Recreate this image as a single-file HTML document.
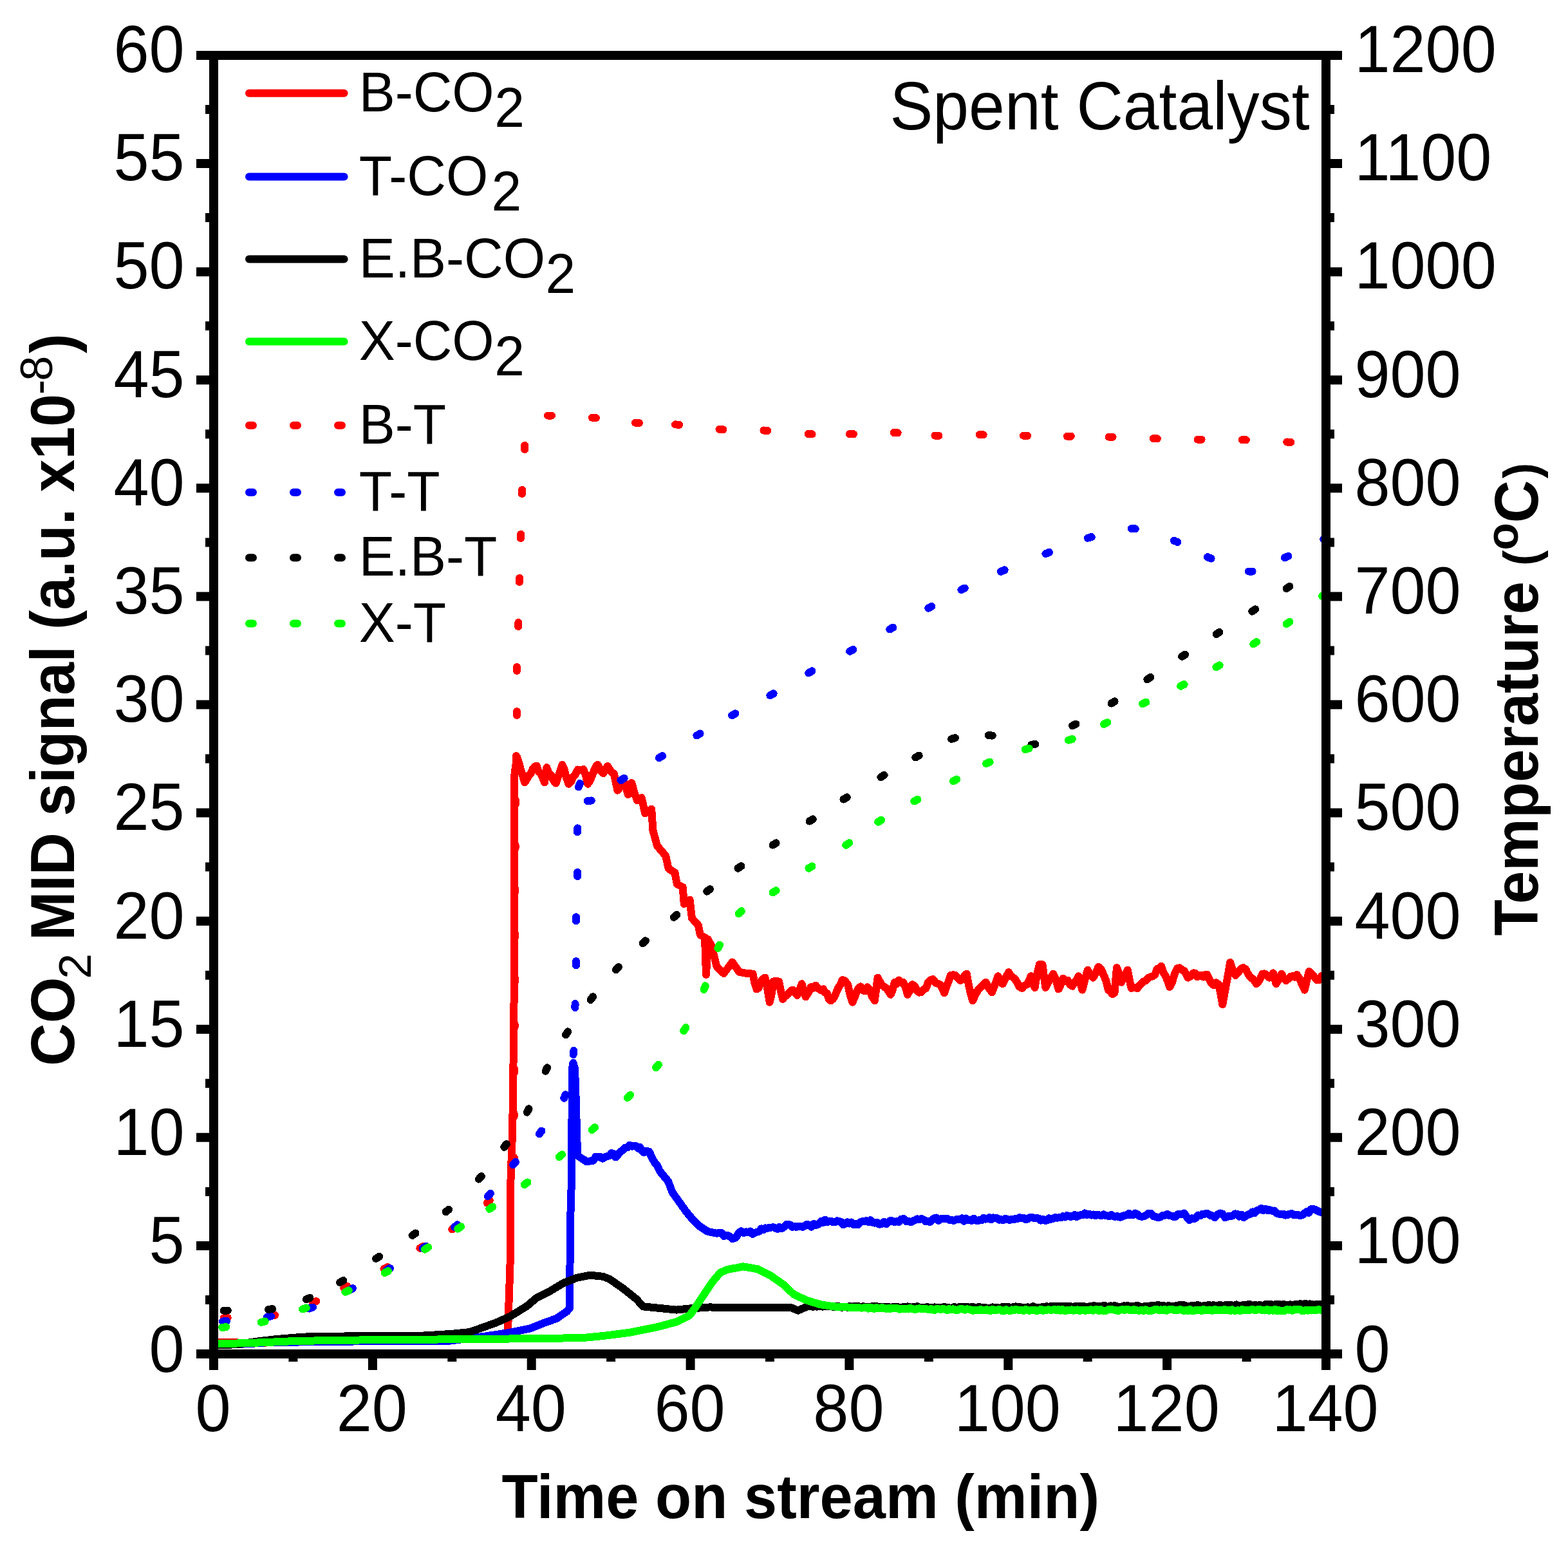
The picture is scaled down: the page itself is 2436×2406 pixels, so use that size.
<!DOCTYPE html>
<html><head><meta charset="utf-8"><style>html,body{margin:0;padding:0;background:#fff;overflow:hidden}svg{display:block}</style></head><body>
<svg width="2436" height="2406" viewBox="0 0 2436 2406">
<rect width="100%" height="100%" fill="#fff"/>
<defs><clipPath id="pc"><rect x="339" y="93" width="1714" height="2003"/></clipPath></defs>
<g clip-path="url(#pc)" fill="none" stroke-width="12" stroke-linejoin="round" stroke-linecap="round" shape-rendering="crispEdges">
<path d="M339.0 2085.5 365.0 2085.3 380.0 2086.0 407.0 2085.8 459.0 2083.5 535.0 2081.5 730.0 2079.5 786.0 2079.0 789.0 2068.0 793.0 1950.0 793.0 1847.0 796.0 1760.0 797.0 1700.0 798.6 1550.0 799.0 1206.0 803.0 1175.7 806.0 1184.1 809.0 1195.9 812.1 1204.8 815.1 1215.5 818.4 1210.3 821.7 1203.8 824.7 1201.1 827.8 1194.3 830.8 1190.5 833.8 1190.0 836.8 1198.4 839.9 1201.3 843.0 1207.5 846.0 1215.5 849.3 1192.2 852.9 1201.3 856.5 1204.2 860.0 1212.5 863.6 1216.6 866.9 1206.9 870.2 1198.2 873.5 1187.8 876.8 1195.7 880.1 1208.5 883.4 1217.7 887.0 1214.4 890.5 1206.7 894.1 1202.5 897.7 1195.5 902.1 1196.3 906.5 1195.0 909.8 1203.7 913.1 1217.7 916.2 1213.3 919.3 1206.3 922.3 1198.6 925.4 1191.0 928.5 1187.8 932.9 1196.7 937.3 1201.2 940.6 1195.4 943.9 1190.0 947.2 1195.2 950.5 1200.0 953.8 1201.6 959.3 1227.6 962.6 1223.9 965.9 1220.1 969.2 1212.6 972.5 1222.8 975.8 1234.2 981.3 1216.0 985.7 1231.6 990.1 1243.5 993.4 1241.0 996.7 1239.1 1002.2 1263.3 1012.2 1256.7 1014.4 1289.7 1021.0 1313.9 1034.2 1329.3 1038.6 1349.1 1048.5 1355.7 1051.8 1373.4 1060.6 1377.8 1062.8 1404.2 1071.6 1397.6 1074.9 1426.2 1084.8 1437.2 1088.1 1452.6 1095.0 1456.0 1097.0 1514.0 1100.0 1459.0 1105.7 1470.2 1113.4 1501.0 1124.4 1512.0 1137.6 1494.4 1148.6 1509.8 1159.7 1512.0 1169.5 1512.6 1172.5 1527.5 1175.5 1536.4 1178.8 1534.6 1182.0 1524.7 1185.3 1520.5 1188.6 1518.6 1192.2 1535.7 1195.7 1556.7 1198.7 1543.9 1201.7 1524.5 1205.8 1524.1 1210.0 1524.5 1213.0 1539.1 1216.0 1551.9 1219.1 1547.6 1222.2 1546.2 1225.2 1542.5 1228.3 1539.4 1231.4 1537.6 1235.0 1542.4 1238.6 1546.0 1242.2 1537.6 1245.7 1528.1 1248.7 1541.0 1251.7 1548.3 1255.8 1541.9 1260.0 1532.9 1263.5 1534.7 1267.1 1530.5 1271.1 1535.0 1275.0 1537.9 1279.0 1536.4 1282.0 1542.1 1285.0 1543.0 1288.0 1552.3 1291.0 1554.3 1294.6 1551.1 1298.1 1544.3 1301.7 1535.5 1305.2 1530.0 1308.8 1522.1 1312.9 1523.7 1317.1 1529.3 1320.7 1545.3 1324.3 1556.7 1327.5 1550.0 1330.6 1540.9 1333.8 1535.2 1337.1 1532.4 1340.5 1538.2 1343.8 1539.3 1347.2 1533.3 1350.5 1536.4 1354.7 1547.5 1358.8 1554.3 1363.6 1518.6 1369.5 1529.3 1373.1 1532.5 1376.7 1534.6 1380.2 1539.5 1383.8 1544.8 1386.8 1537.1 1389.8 1525.7 1393.1 1528.3 1396.3 1522.5 1399.6 1526.5 1402.9 1525.7 1406.5 1532.1 1410.0 1544.8 1413.5 1538.6 1417.1 1529.3 1420.7 1531.1 1424.2 1537.9 1427.8 1541.6 1431.4 1541.2 1435.0 1536.5 1438.6 1535.1 1442.1 1525.5 1445.7 1522.1 1449.7 1521.1 1453.6 1526.8 1457.6 1528.1 1460.8 1529.6 1463.9 1535.5 1467.1 1542.4 1470.3 1532.6 1473.5 1524.9 1476.7 1515.0 1480.7 1514.2 1484.6 1515.0 1488.6 1519.8 1492.2 1523.0 1495.7 1521.0 1498.7 1515.5 1501.7 1512.6 1504.9 1529.7 1508.0 1543.2 1511.2 1554.3 1515.3 1545.1 1519.5 1537.6 1523.5 1533.4 1527.4 1529.8 1531.4 1525.7 1534.6 1531.9 1537.8 1536.7 1541.0 1541.2 1544.2 1533.3 1547.3 1525.4 1550.5 1516.2 1554.0 1525.2 1557.6 1528.1 1560.8 1522.2 1563.9 1515.7 1567.1 1510.2 1570.7 1515.9 1574.3 1518.6 1577.5 1521.5 1580.6 1526.7 1583.8 1532.9 1587.8 1535.0 1591.7 1530.6 1595.7 1529.3 1598.7 1523.1 1601.7 1516.2 1607.6 1534.0 1611.2 1512.7 1614.8 1498.3 1619.5 1498.3 1624.3 1534.0 1628.3 1526.3 1632.2 1520.3 1636.2 1512.6 1640.3 1521.1 1644.5 1536.4 1648.1 1528.9 1651.7 1519.8 1655.3 1523.7 1658.8 1522.7 1662.4 1529.6 1666.0 1531.7 1669.2 1526.3 1672.3 1522.6 1675.5 1516.2 1681.4 1537.6 1685.6 1521.1 1689.8 1506.7 1693.9 1514.1 1698.1 1518.6 1702.2 1511.9 1706.4 1501.9 1710.6 1505.1 1714.8 1515.0 1718.3 1523.2 1721.9 1537.6 1725.1 1540.4 1728.2 1544.0 1731.4 1542.4 1735.0 1503.1 1738.5 1512.7 1742.1 1525.7 1745.3 1519.1 1748.5 1513.7 1751.7 1506.7 1757.6 1535.2 1760.8 1533.9 1763.9 1534.2 1767.1 1535.2 1770.3 1530.3 1773.5 1527.2 1776.7 1524.5 1780.3 1523.1 1783.8 1519.0 1787.4 1517.4 1791.0 1516.2 1794.2 1514.2 1797.5 1505.1 1800.8 1505.1 1804.0 1500.7 1807.3 1510.4 1810.5 1515.5 1813.8 1522.9 1817.1 1532.9 1821.1 1525.5 1825.0 1512.0 1829.0 1504.3 1832.6 1503.3 1836.2 1506.2 1839.8 1507.9 1845.7 1518.6 1849.8 1516.4 1854.0 1511.4 1857.0 1511.6 1860.0 1517.4 1863.1 1515.4 1866.2 1514.8 1869.3 1517.6 1872.4 1514.1 1875.5 1513.8 1881.4 1526.9 1885.4 1530.2 1889.3 1526.2 1893.3 1529.3 1896.3 1543.6 1899.3 1560.2 1905.2 1528.1 1908.2 1512.5 1911.2 1494.8 1915.3 1507.6 1919.5 1515.0 1923.5 1510.7 1927.4 1505.1 1931.4 1503.1 1935.4 1505.6 1939.3 1513.6 1943.3 1518.6 1947.5 1521.2 1951.7 1528.1 1954.9 1525.1 1958.0 1520.1 1961.2 1512.6 1964.8 1512.4 1968.3 1515.1 1971.9 1518.6 1974.9 1517.2 1977.9 1511.4 1982.6 1528.1 1986.8 1521.3 1991.0 1512.6 1994.5 1520.1 1998.1 1523.3 2001.4 1520.3 2004.8 1516.9 2008.1 1516.1 2011.5 1517.8 2014.8 1513.8 2018.8 1520.1 2022.7 1528.6 2026.7 1537.6 2030.2 1522.7 2033.8 1509.0 2037.8 1512.8 2041.7 1517.1 2045.7 1522.1 2049.3 1522.1 2053.0 1516.2" stroke="#ff0000"/>
<path d="M339.0 2089.0 384.0 2087.3 415.0 2085.2 500.0 2084.0 600.0 2083.0 700.0 2082.5 750.7 2076.0 792.0 2069.8 823.2 2063.6 843.9 2055.3 864.6 2048.0 881.1 2036.6 885.0 2032.0 886.0 1900.0 887.9 1835.0 888.5 1740.0 889.0 1660.0 890.5 1651.0 893.0 1660.0 894.8 1710.0 896.3 1770.0 897.7 1795.3 901.1 1797.6 904.4 1799.9 907.8 1801.8 911.1 1804.2 914.5 1803.7 918.2 1803.3 921.9 1802.7 925.5 1796.6 929.2 1797.4 932.7 1797.2 936.1 1799.6 939.6 1797.4 943.1 1796.0 946.6 1795.2 950.1 1791.1 953.2 1792.3 956.4 1797.4 960.1 1793.6 963.8 1788.8 967.4 1786.6 971.1 1782.7 974.6 1782.4 978.1 1778.9 981.6 1780.6 984.8 1779.5 987.9 1780.0 991.1 1783.5 994.2 1781.7 997.3 1787.2 1000.4 1790.0 1004.6 1787.8 1008.8 1789.0 1013.0 1798.9 1017.2 1805.8 1020.7 1809.6 1024.2 1817.5 1027.7 1822.5 1038.2 1835.1 1044.5 1851.9 1055.0 1866.6 1065.4 1881.2 1075.9 1893.8 1086.4 1904.3 1099.0 1912.7 1113.6 1915.8 1117.3 1914.7 1120.9 1914.9 1124.6 1920.1 1128.3 1919.0 1131.4 1919.2 1134.4 1920.9 1137.5 1924.0 1141.1 1923.5 1144.7 1920.0 1148.2 1914.2 1151.8 1912.3 1155.2 1915.0 1158.7 1913.4 1162.2 1914.5 1165.6 1912.6 1169.0 1916.7 1172.5 1914.9 1175.9 1913.7 1179.4 1912.9 1182.8 1908.4 1185.9 1910.4 1189.0 1907.4 1192.1 1907.7 1195.2 1906.7 1198.3 1906.6 1201.5 1906.2 1204.6 1907.4 1207.7 1908.9 1210.8 1905.9 1213.9 1908.4 1217.8 1906.1 1221.6 1902.0 1224.7 1902.0 1227.8 1902.6 1231.0 1905.9 1234.1 1905.0 1237.2 1905.9 1240.4 1904.6 1243.6 1905.1 1246.8 1905.8 1250.0 1904.4 1253.6 1901.7 1257.2 1903.5 1260.8 1905.7 1264.4 1900.8 1268.0 1903.0 1271.7 1901.3 1275.4 1897.2 1278.6 1898.8 1281.7 1894.6 1284.8 1898.3 1288.0 1896.8 1291.0 1896.7 1294.1 1898.3 1297.1 1898.4 1300.4 1896.3 1303.6 1896.9 1306.9 1898.0 1310.1 1902.3 1313.4 1900.4 1316.4 1898.3 1319.5 1900.5 1322.5 1898.6 1326.1 1902.0 1329.7 1901.2 1333.0 1902.4 1336.2 1898.4 1339.5 1897.4 1342.7 1897.2 1346.0 1896.1 1349.3 1898.0 1352.5 1895.1 1355.8 1898.8 1359.0 1899.6 1362.3 1898.6 1365.9 1901.7 1369.6 1901.2 1373.2 1897.8 1376.8 1901.4 1380.4 1898.1 1383.6 1895.8 1386.8 1896.9 1389.9 1898.0 1393.1 1897.2 1396.7 1898.0 1400.4 1893.7 1404.0 1893.2 1407.6 1897.1 1411.3 1896.9 1414.9 1898.4 1418.3 1896.3 1421.7 1895.2 1425.0 1893.4 1428.4 1893.9 1431.7 1893.0 1435.1 1894.5 1438.4 1897.5 1441.7 1897.4 1445.1 1897.9 1448.4 1894.3 1451.6 1892.4 1454.7 1891.5 1457.9 1896.0 1461.1 1893.5 1464.2 1892.6 1467.4 1892.8 1471.0 1892.5 1474.6 1894.8 1478.2 1895.1 1481.9 1896.1 1485.5 1894.3 1488.5 1894.2 1491.5 1894.1 1494.5 1892.3 1497.6 1896.7 1500.6 1892.4 1503.6 1894.8 1506.6 1894.6 1509.6 1896.2 1512.7 1892.6 1515.7 1895.4 1518.7 1896.4 1521.7 1894.7 1524.8 1895.3 1527.8 1891.8 1530.8 1893.6 1533.8 1893.0 1536.8 1891.3 1539.8 1894.5 1542.9 1891.4 1545.9 1891.9 1548.9 1891.9 1552.1 1894.7 1555.2 1894.3 1558.4 1895.3 1561.6 1893.0 1564.8 1893.5 1568.0 1895.0 1571.1 1894.1 1574.3 1894.5 1577.5 1893.0 1580.7 1893.0 1583.8 1891.2 1587.0 1892.5 1590.0 1891.5 1593.1 1894.1 1596.1 1893.6 1599.2 1891.5 1602.2 1890.5 1605.8 1891.8 1609.5 1892.2 1613.2 1892.3 1616.8 1895.6 1620.0 1893.8 1623.2 1895.7 1626.4 1895.5 1629.6 1892.3 1632.8 1893.7 1636.0 1893.0 1639.2 1891.0 1642.2 1891.7 1645.3 1891.2 1648.3 1891.4 1651.4 1889.1 1654.4 1890.5 1657.5 1888.1 1660.5 1888.8 1663.6 1889.9 1666.6 1889.3 1669.7 1887.0 1672.7 1889.9 1675.8 1888.1 1678.8 1887.1 1682.1 1887.4 1685.4 1884.5 1688.7 1887.1 1692.0 1885.6 1695.3 1887.6 1698.6 1886.5 1701.9 1888.2 1705.2 1886.6 1708.2 1887.5 1711.3 1888.4 1714.3 1886.3 1717.4 1887.9 1720.4 1888.5 1723.5 1889.1 1726.5 1886.8 1729.6 1889.4 1732.6 1889.7 1735.7 1888.9 1738.7 1890.5 1741.8 1890.5 1744.8 1888.4 1747.9 1887.8 1751.0 1887.2 1754.0 1884.8 1757.1 1887.5 1760.2 1887.3 1763.3 1884.5 1766.8 1886.2 1770.3 1889.0 1773.8 1889.8 1777.3 1889.1 1780.9 1887.4 1784.4 1884.5 1788.0 1884.5 1791.7 1889.2 1795.3 1889.9 1798.9 1891.1 1802.5 1890.6 1806.2 1888.1 1809.8 1887.7 1813.4 1885.8 1816.7 1888.2 1820.0 1888.5 1823.3 1889.9 1826.6 1889.8 1829.9 1886.1 1833.2 1885.5 1836.5 1885.5 1839.8 1884.5 1843.8 1890.5 1847.7 1895.0 1851.1 1892.3 1854.5 1893.3 1857.9 1891.7 1861.3 1887.5 1864.7 1888.3 1868.1 1885.7 1871.5 1885.8 1874.7 1884.6 1877.9 1886.1 1881.0 1888.1 1884.2 1888.4 1887.4 1891.1 1891.3 1886.3 1895.3 1884.5 1899.2 1885.5 1903.2 1891.1 1906.3 1890.0 1909.4 1888.7 1912.5 1889.0 1915.5 1888.0 1918.6 1885.4 1921.7 1885.8 1925.2 1889.6 1928.7 1886.8 1932.2 1891.1 1935.6 1888.9 1939.0 1886.6 1942.4 1885.6 1945.8 1882.4 1949.2 1884.3 1952.6 1880.3 1956.0 1879.2 1959.4 1877.1 1962.8 1880.1 1966.2 1877.7 1969.5 1880.2 1972.9 1879.3 1976.3 1880.7 1979.7 1880.5 1983.2 1884.6 1986.8 1885.6 1990.3 1885.8 1993.6 1885.6 1996.9 1887.7 2000.2 1887.0 2003.5 1885.8 2006.8 1884.8 2010.1 1887.3 2013.4 1887.3 2016.7 1887.1 2020.0 1888.3 2023.3 1887.3 2026.6 1884.5 2029.9 1882.2 2033.2 1883.8 2036.5 1878.3 2039.8 1877.8 2043.1 1878.7 2046.4 1880.5 2049.7 1882.3 2053.0 1883.2" stroke="#0000ff"/>
<path d="M339.0 2089.5 370.0 2088.0 400.0 2083.5 430.0 2080.0 460.0 2077.5 490.0 2075.5 535.0 2075.5 650.0 2075.0 700.0 2072.0 730.0 2069.0 771.4 2054.2 792.1 2045.0 819.0 2028.4 833.5 2016.0 854.2 2005.6 874.9 1993.2 895.6 1984.9 916.3 1980.7 937.0 1982.8 947.4 1987.0 968.1 2001.4 988.8 2018.0 999.2 2029.4 1030.2 2032.5 1050.9 2034.6 1071.6 2032.5 1102.7 2030.4 1130.0 2031.5 1229.0 2031.0 1239.7 2035.6 1254.0 2029.4 1257.0 2029.0 1260.0 2028.6 1263.0 2029.8 1266.0 2028.4 1269.0 2029.6 1272.0 2029.2 1275.0 2028.5 1278.0 2029.6 1281.0 2028.4 1284.0 2029.4 1287.0 2028.6 1290.0 2028.6 1293.0 2029.4 1296.0 2030.4 1299.0 2028.8 1302.0 2029.0 1305.0 2030.0 1308.0 2030.8 1311.0 2029.9 1314.0 2029.5 1317.0 2030.9 1320.0 2028.7 1323.0 2030.7 1326.0 2029.3 1329.0 2029.0 1332.0 2028.9 1335.0 2029.4 1338.0 2030.6 1341.0 2029.1 1344.0 2030.1 1347.0 2030.3 1350.0 2029.7 1353.0 2030.1 1356.0 2028.9 1359.0 2029.0 1362.0 2029.3 1365.0 2030.5 1368.0 2029.9 1371.0 2029.6 1374.0 2030.3 1377.0 2030.0 1380.0 2029.6 1383.0 2030.9 1386.0 2030.6 1389.0 2029.6 1392.0 2030.4 1395.0 2030.3 1398.0 2031.1 1401.0 2030.8 1404.0 2029.8 1407.0 2031.4 1410.0 2029.4 1413.0 2030.1 1416.0 2031.0 1419.0 2029.5 1422.0 2030.3 1425.0 2029.3 1428.0 2030.8 1431.0 2031.1 1434.0 2030.6 1437.0 2031.4 1440.0 2030.0 1443.0 2031.0 1446.0 2030.7 1449.0 2030.7 1452.0 2030.4 1455.0 2031.4 1458.0 2031.6 1461.0 2030.5 1464.0 2031.0 1467.0 2029.6 1470.0 2031.1 1473.0 2031.0 1476.0 2031.9 1479.0 2031.5 1482.0 2030.2 1485.0 2030.5 1488.0 2031.2 1491.0 2029.6 1494.0 2030.7 1497.0 2030.0 1500.0 2029.9 1503.0 2029.8 1506.0 2031.5 1509.0 2030.0 1512.0 2030.3 1515.0 2030.7 1518.0 2031.8 1521.0 2029.9 1524.0 2030.8 1527.0 2031.1 1530.0 2031.0 1533.0 2031.9 1536.0 2031.7 1539.0 2031.8 1542.0 2030.4 1545.0 2030.7 1548.0 2030.5 1551.0 2031.7 1554.0 2031.9 1557.1 2029.9 1560.1 2029.9 1563.1 2030.0 1566.1 2030.0 1569.1 2030.6 1572.1 2030.8 1575.1 2030.0 1578.1 2029.4 1581.1 2030.3 1584.1 2030.2 1587.1 2030.6 1590.1 2031.5 1593.1 2030.9 1596.1 2030.4 1599.1 2030.6 1602.1 2030.7 1605.1 2029.2 1608.1 2031.2 1611.2 2030.9 1614.2 2031.1 1617.2 2030.9 1620.2 2029.9 1623.2 2029.9 1626.2 2029.1 1629.2 2030.4 1632.2 2029.0 1635.2 2029.0 1638.2 2029.3 1641.2 2029.1 1644.2 2029.5 1647.2 2028.8 1650.2 2028.7 1653.2 2029.0 1656.2 2028.8 1659.2 2029.4 1662.3 2028.6 1665.3 2030.6 1668.3 2030.0 1671.3 2028.8 1674.3 2029.0 1677.3 2029.2 1680.3 2029.2 1683.3 2028.6 1686.3 2030.3 1689.3 2030.7 1692.3 2029.4 1695.3 2029.4 1698.3 2028.4 1701.3 2028.4 1704.3 2029.0 1707.3 2028.7 1710.3 2030.1 1713.4 2028.4 1716.4 2028.1 1719.4 2030.3 1722.4 2029.2 1725.4 2028.3 1728.4 2029.2 1731.4 2027.9 1734.4 2029.1 1737.4 2030.2 1740.4 2029.9 1743.4 2029.4 1746.4 2028.4 1749.4 2028.6 1752.4 2028.1 1755.4 2029.5 1758.4 2028.9 1761.4 2029.5 1764.4 2028.3 1767.5 2028.1 1770.5 2029.4 1773.5 2029.8 1776.5 2029.5 1779.5 2029.3 1782.5 2029.4 1785.5 2029.1 1788.5 2027.9 1791.5 2028.5 1794.5 2028.1 1797.5 2027.3 1800.5 2027.3 1803.5 2027.9 1806.5 2027.8 1809.5 2028.8 1812.5 2029.4 1815.5 2028.1 1818.6 2029.3 1821.6 2029.4 1824.6 2029.3 1827.6 2027.8 1830.6 2027.5 1833.6 2027.4 1836.6 2027.3 1839.6 2027.3 1842.6 2028.3 1845.6 2028.9 1848.6 2028.8 1851.6 2027.9 1854.6 2028.3 1857.6 2028.6 1860.6 2026.8 1863.6 2028.2 1866.6 2028.8 1869.6 2028.4 1872.7 2028.3 1875.7 2027.6 1878.7 2026.9 1881.7 2028.3 1884.7 2027.2 1887.7 2028.3 1890.7 2028.7 1893.7 2027.3 1896.7 2027.3 1899.7 2028.5 1902.7 2028.0 1905.7 2026.6 1908.7 2026.5 1911.7 2026.5 1914.7 2028.3 1917.7 2028.0 1920.7 2026.4 1923.8 2028.0 1926.8 2028.4 1929.8 2027.6 1932.8 2026.8 1935.8 2027.2 1938.8 2026.2 1941.8 2025.9 1944.8 2028.2 1947.8 2027.4 1950.8 2027.0 1953.8 2028.0 1956.8 2026.8 1959.8 2027.8 1962.8 2027.6 1965.8 2026.1 1968.8 2026.2 1971.8 2026.3 1974.9 2026.1 1977.9 2026.9 1980.9 2026.1 1983.9 2026.5 1986.9 2025.7 1989.9 2027.6 1992.9 2026.2 1995.9 2026.4 1998.9 2026.7 2001.9 2027.5 2004.9 2026.3 2007.9 2027.4 2010.9 2026.4 2013.9 2026.4 2016.9 2026.4 2019.9 2025.2 2022.9 2026.1 2025.9 2025.5 2029.0 2025.0 2032.0 2026.9 2035.0 2025.4 2038.0 2026.1 2041.0 2026.7 2044.0 2026.2 2047.0 2025.6 2050.0 2026.1 2053.0 2026.0" stroke="#000000"/>
<path d="M339.0 2087.5 365.0 2086.6 407.0 2085.3 459.0 2083.0 535.0 2081.7 730.0 2080.1 843.9 2079.0 906.0 2078.0 937.0 2075.0 978.4 2069.8 1019.9 2061.5 1050.9 2053.2 1071.6 2042.9 1082.0 2028.4 1094.4 2009.7 1106.8 1991.1 1119.2 1976.6 1130.0 1972.0 1154.8 1967.3 1177.6 1971.4 1196.3 1980.7 1217.0 1995.2 1233.5 2010.8 1254.2 2020.1 1274.9 2026.3 1295.6 2029.4 1337.0 2031.5 1340.0 2031.5 1343.1 2031.3 1346.1 2030.8 1349.2 2032.6 1352.2 2030.6 1355.3 2031.9 1358.3 2032.9 1361.4 2031.0 1364.4 2032.2 1367.5 2032.4 1370.5 2031.0 1373.6 2031.9 1376.6 2032.8 1379.7 2032.2 1382.7 2032.9 1385.8 2031.6 1388.8 2031.9 1391.8 2031.6 1394.9 2032.6 1397.9 2033.7 1401.0 2033.0 1404.0 2033.5 1407.1 2032.6 1410.1 2033.5 1413.2 2032.0 1416.2 2032.5 1419.3 2033.5 1422.3 2033.7 1425.4 2033.0 1428.4 2032.3 1431.5 2032.8 1434.5 2032.7 1437.6 2032.9 1440.6 2033.5 1443.7 2034.3 1446.8 2032.9 1449.8 2034.6 1452.9 2034.6 1456.0 2032.7 1459.1 2033.5 1462.2 2033.8 1465.3 2032.8 1468.3 2033.8 1471.4 2035.0 1474.5 2033.1 1477.6 2034.4 1480.7 2033.3 1483.8 2034.4 1486.8 2035.2 1489.9 2033.6 1493.0 2033.2 1496.1 2033.4 1499.2 2034.6 1502.3 2033.4 1505.3 2033.6 1508.4 2034.6 1511.5 2035.7 1514.6 2034.5 1517.7 2034.5 1520.8 2035.2 1523.8 2033.9 1526.9 2035.1 1530.0 2035.0 1533.0 2034.2 1536.0 2035.3 1539.0 2036.1 1542.0 2033.9 1545.0 2035.1 1548.0 2035.3 1551.0 2034.2 1554.0 2034.4 1557.1 2036.2 1560.1 2036.2 1563.1 2034.1 1566.1 2035.5 1569.1 2036.1 1572.1 2034.4 1575.1 2035.3 1578.1 2033.9 1581.1 2034.7 1584.1 2035.4 1587.1 2035.2 1590.1 2035.7 1593.1 2034.0 1596.1 2034.6 1599.1 2035.9 1602.1 2035.2 1605.1 2034.9 1608.1 2034.8 1611.2 2036.2 1614.2 2035.2 1617.2 2033.8 1620.2 2035.7 1623.2 2034.6 1626.2 2034.8 1629.2 2034.3 1632.2 2034.9 1635.2 2034.6 1638.2 2034.0 1641.2 2035.3 1644.2 2034.0 1647.2 2035.7 1650.2 2033.9 1653.2 2035.7 1656.2 2035.7 1659.2 2035.0 1662.3 2035.5 1665.3 2034.4 1668.3 2035.6 1671.3 2034.8 1674.3 2034.4 1677.3 2036.1 1680.3 2034.8 1683.3 2034.7 1686.3 2035.9 1689.3 2034.7 1692.3 2035.4 1695.3 2034.2 1698.3 2035.8 1701.3 2034.4 1704.3 2033.9 1707.3 2036.1 1710.3 2034.2 1713.4 2036.1 1716.4 2036.2 1719.4 2035.3 1722.4 2033.8 1725.4 2033.9 1728.4 2034.3 1731.4 2034.7 1734.4 2035.3 1737.4 2036.1 1740.4 2034.7 1743.4 2034.1 1746.4 2035.1 1749.4 2034.1 1752.4 2034.0 1755.4 2035.1 1758.4 2035.5 1761.4 2034.0 1764.4 2034.9 1767.5 2035.5 1770.5 2035.6 1773.5 2034.7 1776.5 2035.9 1779.5 2034.2 1782.5 2035.5 1785.5 2035.7 1788.5 2035.9 1791.5 2035.0 1794.5 2034.0 1797.5 2033.9 1800.5 2035.1 1803.5 2034.2 1806.5 2035.3 1809.5 2034.0 1812.5 2035.7 1815.5 2034.3 1818.6 2033.8 1821.6 2034.2 1824.6 2034.9 1827.6 2035.1 1830.6 2034.7 1833.6 2034.2 1836.6 2035.0 1839.6 2036.1 1842.6 2035.1 1845.6 2036.1 1848.6 2033.9 1851.6 2036.2 1854.6 2035.9 1857.6 2035.1 1860.6 2035.1 1863.6 2035.1 1866.6 2036.0 1869.6 2034.0 1872.7 2035.3 1875.7 2035.1 1878.7 2034.5 1881.7 2035.5 1884.7 2035.5 1887.7 2034.0 1890.7 2035.5 1893.7 2034.9 1896.7 2035.0 1899.7 2035.3 1902.7 2033.9 1905.7 2035.2 1908.7 2034.7 1911.7 2035.9 1914.7 2034.4 1917.7 2035.8 1920.7 2035.6 1923.8 2035.3 1926.8 2035.9 1929.8 2033.9 1932.8 2035.2 1935.8 2035.3 1938.8 2035.4 1941.8 2034.8 1944.8 2034.0 1947.8 2034.3 1950.8 2035.3 1953.8 2034.2 1956.8 2034.0 1959.8 2034.7 1962.8 2034.9 1965.8 2035.1 1968.8 2033.9 1971.8 2035.7 1974.9 2034.6 1977.9 2035.7 1980.9 2033.8 1983.9 2036.1 1986.9 2035.2 1989.9 2036.1 1992.9 2036.2 1995.9 2035.8 1998.9 2034.1 2001.9 2034.6 2004.9 2034.4 2007.9 2035.7 2010.9 2034.3 2013.9 2034.3 2016.9 2034.1 2019.9 2034.1 2022.9 2036.1 2025.9 2036.1 2029.0 2034.7 2032.0 2035.6 2035.0 2034.9 2038.0 2035.1 2041.0 2034.7 2044.0 2035.3 2047.0 2034.4 2050.0 2034.4 2053.0 2035.0" stroke="#00ff00"/>
<path d="M347.7 2047.2L353.7 2046.8M421.2 2043.8L427.2 2042.8M485.6 2023.3L491.2 2021.1M534.3 2000.7L539.7 1998.1M596.5 1970.8L601.9 1968.0M652.4 1938.8L657.6 1935.8M702.3 1909.5L707.3 1906.1M756.8 1868.7L760.8 1864.1M797.2 1803.9L798.8 1798.1M798.5 1735.0L798.5 1729.0M799.0 1666.0L799.0 1660.0M799.5 1596.0L799.5 1590.0M800.0 1525.0L800.0 1519.0M800.0 1456.0L800.0 1450.0M800.0 1386.0L800.0 1380.0M800.5 1318.0L800.5 1312.0M801.0 1249.0L801.0 1243.0M802.0 1180.0L802.0 1174.0M803.0 1111.0L803.0 1105.0M803.0 1042.0L803.0 1036.0M805.2 973.0L805.4 967.0M806.9 904.0L807.1 898.0M808.9 836.0L809.1 830.0M810.9 767.0L811.1 761.0M815.2 692.0L815.2 698.0M851.0 645.5L857.0 645.5M919.8 648.7L925.8 649.1M986.9 656.6L992.9 657.0M1049.1 659.4L1055.1 659.8M1117.5 666.8L1123.5 667.2M1186.4 668.5L1192.4 668.9M1255.6 674.1L1261.6 674.3M1319.9 674.2L1325.9 674.2M1388.7 672.1L1394.7 672.3M1452.5 676.6L1458.5 676.8M1521.7 675.2L1527.7 675.2M1590.0 676.6L1596.0 676.8M1657.8 677.7L1663.8 677.7M1722.6 678.6L1728.6 678.8M1791.9 681.1L1797.9 681.3M1860.6 682.7L1866.6 682.7M1929.9 683.1L1935.9 683.3M1999.2 686.5L2005.2 686.9" stroke="#ff0000"/>
<path d="M346.0 2052.5L352.0 2051.9M415.0 2045.5L421.0 2044.5M480.4 2032.5L486.0 2030.5M542.6 2003.8L548.0 2001.2M600.7 1972.9L605.9 1969.9M656.7 1938.8L661.7 1935.6M706.2 1906.0L710.8 1902.2M757.9 1858.1L761.9 1853.7M797.1 1809.3L800.9 1804.7M837.8 1761.4L841.4 1756.6M876.3 1705.8L878.5 1700.2M890.7 1638.0L891.3 1632.0M893.4 1565.0L893.6 1559.0M895.0 1499.2L895.0 1493.2M895.0 1430.3L895.0 1424.3M897.2 1361.0L897.2 1355.0M897.1 1292.3L897.3 1286.3M898.8 1222.5L901.0 1216.9M912.7 1244.3L918.7 1243.5M964.4 1212.0L969.6 1208.8M1023.9 1177.2L1029.1 1174.2M1082.4 1142.5L1087.6 1139.5M1137.2 1111.2L1142.4 1108.4M1196.4 1080.3L1201.6 1077.3M1256.2 1045.4L1261.4 1042.4M1320.1 1011.7L1325.3 1008.9M1382.2 977.5L1387.4 974.7M1442.2 944.6L1447.4 941.8M1493.4 916.1L1498.8 913.5M1555.0 887.8L1560.6 885.4M1624.4 860.1L1630.0 857.9M1689.9 835.7L1695.7 834.1M1757.8 821.1L1763.8 821.3M1823.9 839.8L1829.5 842.0M1876.0 865.3L1881.6 867.5M1939.7 887.5L1945.7 887.5M1996.0 866.2L2001.4 863.8M2056.3 837.3L2061.7 834.7" stroke="#0000ff"/>
<path d="M347.7 2035.7L353.7 2035.5M417.1 2033.9L423.1 2033.1M475.9 2018.1L481.5 2015.9M528.2 1992.0L533.4 1989.0M584.2 1955.0L589.2 1951.8M640.5 1918.9L645.5 1915.5M692.6 1882.4L697.2 1878.6M743.9 1831.6L747.9 1827.2M783.3 1781.8L786.7 1777.0M818.7 1727.6L821.5 1722.4M847.6 1663.8L850.2 1658.4M878.9 1607.4L882.1 1602.4M917.5 1553.0L921.1 1548.2M956.9 1506.5L960.9 1502.1M998.5 1465.2L1002.9 1461.2M1046.8 1424.8L1051.4 1421.0M1098.3 1384.6L1103.1 1381.0M1146.5 1348.7L1151.5 1345.3M1200.6 1312.6L1205.6 1309.4M1257.7 1275.6L1262.7 1272.4M1310.5 1241.6L1315.7 1238.4M1368.4 1207.0L1373.6 1204.0M1422.4 1176.4L1427.6 1173.6M1478.1 1147.8L1483.9 1146.2M1535.8 1142.2L1541.8 1142.6M1602.4 1156.8L1608.4 1156.0M1666.1 1127.4L1671.5 1124.6M1726.6 1092.6L1731.6 1089.4M1782.4 1055.4L1787.4 1052.0M1836.2 1019.8L1841.2 1016.6M1889.5 985.1L1894.5 981.9M1945.2 949.6L1950.2 946.4M1998.5 914.2L2003.5 910.8" stroke="#000000"/>
<path d="M345.2 2061.9L351.2 2061.1M405.8 2053.9L411.6 2052.5M470.1 2033.5L475.7 2031.5M536.4 2006.8L541.8 2004.4M597.6 1977.0L602.8 1974.2M660.0 1940.6L665.2 1937.4M711.2 1908.6L716.2 1905.4M760.3 1877.9L765.3 1874.5M814.6 1840.1L819.4 1836.5M868.6 1797.2L873.2 1793.4M919.5 1755.0L924.1 1751.0M974.9 1705.1L979.1 1700.9M1019.1 1658.2L1022.9 1653.6M1062.2 1601.2L1065.4 1596.0M1093.6 1536.9L1095.8 1531.3M1115.4 1472.9L1118.0 1467.5M1147.6 1419.3L1151.8 1415.1M1200.6 1386.4L1205.6 1383.2M1256.5 1348.7L1261.5 1345.5M1314.2 1312.7L1319.2 1309.3M1364.2 1276.8L1369.2 1273.6M1420.3 1244.5L1425.5 1241.7M1480.9 1213.3L1486.3 1210.5M1532.0 1186.0L1537.6 1183.6M1592.8 1164.1L1598.6 1162.5M1660.0 1149.7L1665.8 1147.9M1715.0 1124.8L1720.4 1122.2M1775.1 1093.3L1780.5 1090.7M1834.2 1065.7L1839.6 1063.1M1889.4 1036.2L1894.6 1033.2M1947.2 1000.3L1952.4 997.1M1998.5 969.2L2003.5 965.8M2054.1 925.9L2058.9 922.1" stroke="#00ff00"/>
</g>
<rect x="332.0" y="86.0" width="1728.0" height="2017.0" fill="none" stroke="#000" stroke-width="14"/>
<path d="M305 2103.0H325 M2067 2103.0H2085 M305 1934.9H325 M2067 1934.9H2085 M305 1766.8H325 M2067 1766.8H2085 M305 1598.8H325 M2067 1598.8H2085 M305 1430.7H325 M2067 1430.7H2085 M305 1262.6H325 M2067 1262.6H2085 M305 1094.5H325 M2067 1094.5H2085 M305 926.4H325 M2067 926.4H2085 M305 758.3H325 M2067 758.3H2085 M305 590.2H325 M2067 590.2H2085 M305 422.2H325 M2067 422.2H2085 M305 254.1H325 M2067 254.1H2085 M305 86.0H325 M2067 86.0H2085 M319 2019.0H325 M2067 2019.0H2073 M319 1850.9H325 M2067 1850.9H2073 M319 1682.8H325 M2067 1682.8H2073 M319 1514.7H325 M2067 1514.7H2073 M319 1346.6H325 M2067 1346.6H2073 M319 1178.5H325 M2067 1178.5H2073 M319 1010.5H325 M2067 1010.5H2073 M319 842.4H325 M2067 842.4H2073 M319 674.3H325 M2067 674.3H2073 M319 506.2H325 M2067 506.2H2073 M319 338.1H325 M2067 338.1H2073 M319 170.0H325 M2067 170.0H2073 M332.0 2110V2128 M578.9 2110V2128 M825.7 2110V2128 M1072.6 2110V2128 M1319.4 2110V2128 M1566.3 2110V2128 M1813.1 2110V2128 M2060.0 2110V2128 M455.4 2110V2115 M702.3 2110V2115 M949.1 2110V2115 M1196.0 2110V2115 M1442.9 2110V2115 M1689.7 2110V2115 M1936.6 2110V2115" stroke="#000" stroke-width="14" fill="none"/>
<path d="M387 144.7H534.6" stroke="#ff0000" stroke-width="12" stroke-linecap="round"/>
<path d="M387 274.6H534.6" stroke="#0000ff" stroke-width="12" stroke-linecap="round"/>
<path d="M387 402.5H534.6" stroke="#000000" stroke-width="12" stroke-linecap="round"/>
<path d="M387 530.5H534.6" stroke="#00ff00" stroke-width="12" stroke-linecap="round"/>
<path d="M387 660.8h6M456 660.8h6M525 660.8h6" stroke="#ff0000" stroke-width="12" stroke-linecap="round"/>
<path d="M387 764.7h6M456 764.7h6M525 764.7h6" stroke="#0000ff" stroke-width="12" stroke-linecap="round"/>
<path d="M387 866.2h6M456 866.2h6M525 866.2h6" stroke="#000000" stroke-width="12" stroke-linecap="round"/>
<path d="M387 968.6h6M456 968.6h6M525 968.6h6" stroke="#00ff00" stroke-width="12" stroke-linecap="round"/>
<g font-family="'Liberation Sans', Arial, sans-serif" fill="#000">
<text transform="translate(286.50 2130.50) scale(1 1.05)" font-size="99" text-anchor="end">0</text>
<text transform="translate(2104.50 2130.50) scale(1 1.05)" font-size="99">0</text>
<text transform="translate(286.50 1962.29) scale(1 1.05)" font-size="99" text-anchor="end">5</text>
<text transform="translate(2104.50 1962.29) scale(1 1.05)" font-size="99">100</text>
<text transform="translate(286.50 1794.08) scale(1 1.05)" font-size="99" text-anchor="end">10</text>
<text transform="translate(2104.50 1794.08) scale(1 1.05)" font-size="99">200</text>
<text transform="translate(286.50 1625.88) scale(1 1.05)" font-size="99" text-anchor="end">15</text>
<text transform="translate(2104.50 1625.88) scale(1 1.05)" font-size="99">300</text>
<text transform="translate(286.50 1457.67) scale(1 1.05)" font-size="99" text-anchor="end">20</text>
<text transform="translate(2104.50 1457.67) scale(1 1.05)" font-size="99">400</text>
<text transform="translate(286.50 1289.46) scale(1 1.05)" font-size="99" text-anchor="end">25</text>
<text transform="translate(2104.50 1289.46) scale(1 1.05)" font-size="99">500</text>
<text transform="translate(286.50 1121.25) scale(1 1.05)" font-size="99" text-anchor="end">30</text>
<text transform="translate(2104.50 1121.25) scale(1 1.05)" font-size="99">600</text>
<text transform="translate(286.50 953.04) scale(1 1.05)" font-size="99" text-anchor="end">35</text>
<text transform="translate(2104.50 953.04) scale(1 1.05)" font-size="99">700</text>
<text transform="translate(286.50 784.83) scale(1 1.05)" font-size="99" text-anchor="end">40</text>
<text transform="translate(2104.50 784.83) scale(1 1.05)" font-size="99">800</text>
<text transform="translate(286.50 616.62) scale(1 1.05)" font-size="99" text-anchor="end">45</text>
<text transform="translate(2104.50 616.62) scale(1 1.05)" font-size="99">900</text>
<text transform="translate(286.50 448.42) scale(1 1.05)" font-size="99" text-anchor="end">50</text>
<text transform="translate(2104.50 448.42) scale(1 1.05)" font-size="99">1000</text>
<text transform="translate(286.50 280.21) scale(1 1.05)" font-size="99" text-anchor="end">55</text>
<text transform="translate(2104.50 280.21) scale(1 1.05)" font-size="99">1100</text>
<text transform="translate(286.50 112.00) scale(1 1.05)" font-size="99" text-anchor="end">60</text>
<text transform="translate(2104.50 112.00) scale(1 1.05)" font-size="99">1200</text>
<text transform="translate(331.00 2222.80) scale(1 1.05)" font-size="99" text-anchor="middle">0</text>
<text transform="translate(577.86 2222.80) scale(1 1.05)" font-size="99" text-anchor="middle">20</text>
<text transform="translate(824.71 2222.80) scale(1 1.05)" font-size="99" text-anchor="middle">40</text>
<text transform="translate(1071.57 2222.80) scale(1 1.05)" font-size="99" text-anchor="middle">60</text>
<text transform="translate(1318.43 2222.80) scale(1 1.05)" font-size="99" text-anchor="middle">80</text>
<text transform="translate(1565.29 2222.80) scale(1 1.05)" font-size="99" text-anchor="middle">100</text>
<text transform="translate(1812.14 2222.80) scale(1 1.05)" font-size="99" text-anchor="middle">120</text>
<text transform="translate(2059.00 2222.80) scale(1 1.05)" font-size="99" text-anchor="middle">140</text>
<text transform="translate(779.47 2357.50) scale(1 1.047)" font-size="92" font-weight="bold">Time on stream (min)</text>
<text transform="translate(1382.45 201.30) scale(1 1.055)" font-size="100.3">Spent Catalyst</text>
<text transform="translate(115.30 1655.67) rotate(-90) scale(1 1.047)" font-size="92" font-weight="bold">CO</text>
<text transform="translate(140.80 1520.57) rotate(-90)" font-size="71">2</text>
<text transform="translate(115.30 1460.82) rotate(-90) scale(1 1.047)" font-size="91.5" font-weight="bold">MID signal (a.u. x10</text>
<text transform="translate(84.00 613.11) rotate(-90)" font-size="70">-</text>
<text transform="translate(81.00 591.64) rotate(-90)" font-size="70">8</text>
<text transform="translate(115.30 548.79) rotate(-90) scale(1 1.047)" font-size="92" font-weight="bold">)</text>
<text transform="translate(2389.10 1453.43) rotate(-90) scale(1 1.047)" font-size="92" font-weight="bold">Temperature</text>
<text transform="translate(2389.10 878.69) rotate(-90) scale(1 1.047)" font-size="72" font-weight="bold">(</text>
<text transform="translate(2358.00 854.73) rotate(-90)" font-size="70" font-weight="bold">o</text>
<text transform="translate(2389.10 812.27) rotate(-90) scale(1 1.047)" font-size="92" font-weight="bold">C</text>
<text transform="translate(2389.10 743.07) rotate(-90) scale(1 1.047)" font-size="72" font-weight="bold">)</text>
<text transform="translate(557.70 172.90) scale(1 1.03)" font-size="84">B-CO</text>
<text transform="translate(768.20 196.80) scale(1 1.03)" font-size="84">2</text>
<text transform="translate(557.70 302.80) scale(1 1.03)" font-size="84">T-CO</text>
<text transform="translate(763.48 326.70) scale(1 1.03)" font-size="84">2</text>
<text transform="translate(557.70 430.70) scale(1 1.03)" font-size="84">E.B-CO</text>
<text transform="translate(847.57 454.60) scale(1 1.03)" font-size="84">2</text>
<text transform="translate(557.70 558.70) scale(1 1.03)" font-size="84">X-CO</text>
<text transform="translate(768.20 582.60) scale(1 1.03)" font-size="84">2</text>
<text transform="translate(557.70 689.00) scale(1 1.03)" font-size="84">B-T</text>
<text transform="translate(557.70 792.90) scale(1 1.03)" font-size="84">T-T</text>
<text transform="translate(557.70 894.40) scale(1 1.03)" font-size="84">E.B-T</text>
<text transform="translate(557.70 996.80) scale(1 1.03)" font-size="84">X-T</text>
</g>
</svg>
</body></html>
